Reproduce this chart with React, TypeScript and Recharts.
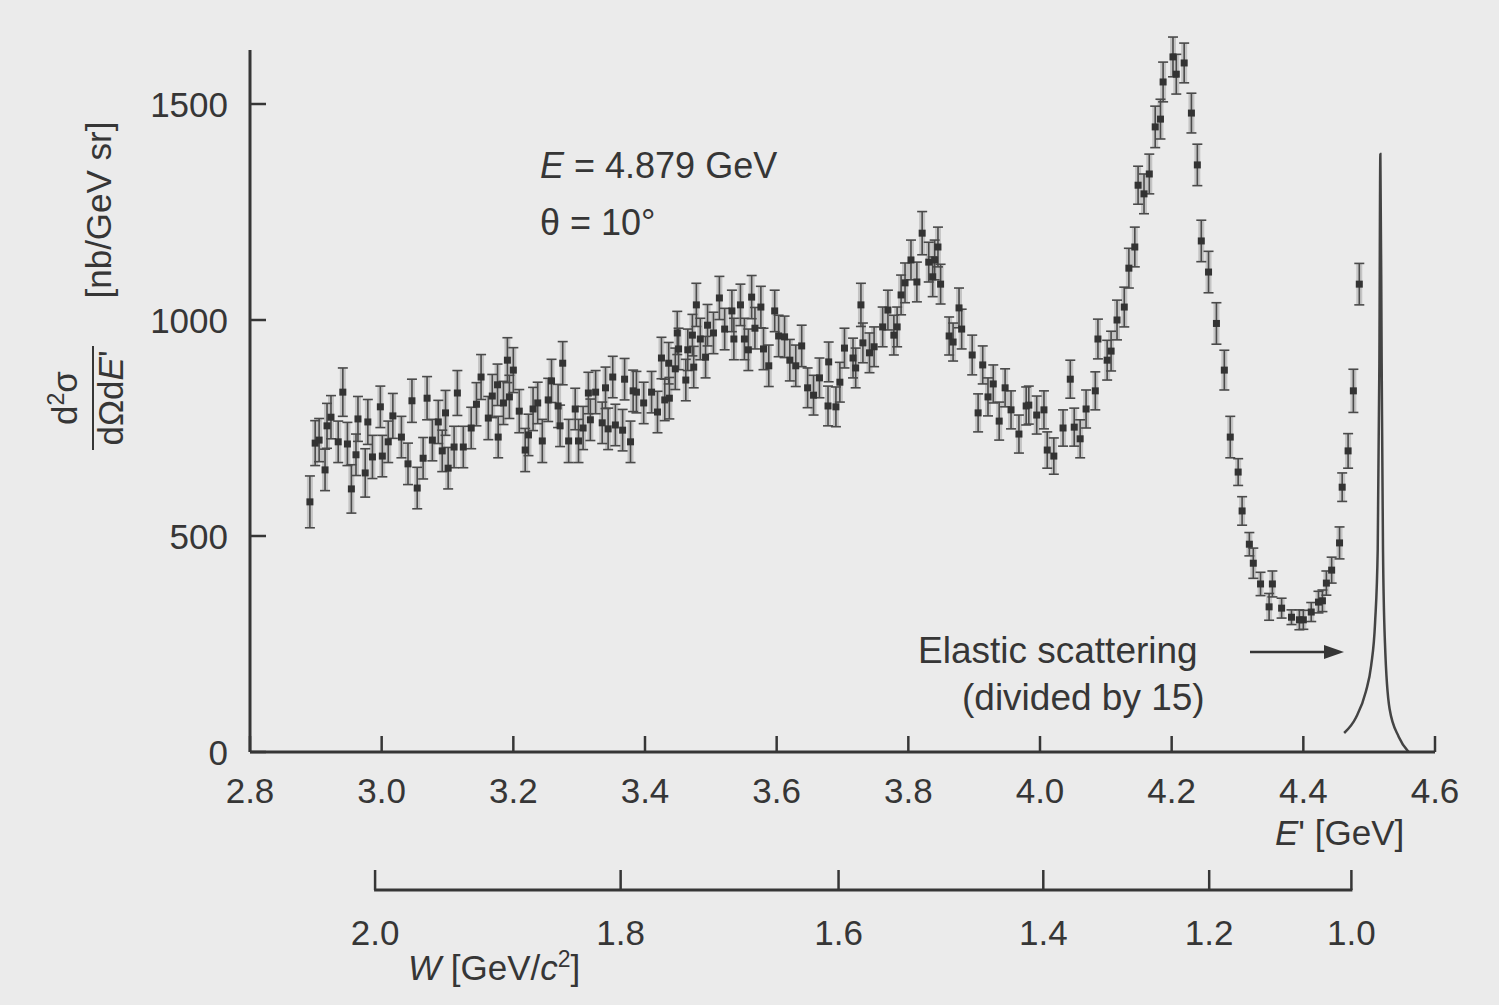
import React from "react";
import { ComposedChart, Scatter, Line, XAxis, YAxis, ErrorBar } from "recharts";

// scattered electron energy E' [GeV]
const ePrime = [
  2.891, 2.899, 2.905, 2.914, 2.917, 2.923, 2.934, 2.941, 2.948, 2.954, 2.961, 2.964, 2.975, 2.979, 2.986,
  2.998, 3.001, 3.01, 3.017, 3.03, 3.04, 3.046, 3.054, 3.063, 3.069, 3.077, 3.086, 3.092, 3.097, 3.101,
  3.11, 3.115, 3.124, 3.136, 3.144, 3.151, 3.162, 3.168, 3.176, 3.177, 3.185, 3.191, 3.194, 3.2, 3.209,
  3.218, 3.223, 3.23, 3.237, 3.244, 3.253, 3.258, 3.268, 3.271, 3.275, 3.284, 3.294, 3.299, 3.306, 3.314,
  3.317, 3.325, 3.335, 3.34, 3.344, 3.351, 3.355, 3.366, 3.369, 3.378, 3.382, 3.387, 3.398, 3.41, 3.419,
  3.425, 3.43, 3.436, 3.437, 3.446, 3.449, 3.451, 3.462, 3.465, 3.472, 3.474, 3.478, 3.484, 3.492, 3.495,
  3.504, 3.513, 3.521, 3.532, 3.535, 3.545, 3.551, 3.557, 3.562, 3.567, 3.576, 3.58, 3.588, 3.597, 3.603,
  3.612, 3.62, 3.629, 3.638, 3.647, 3.656, 3.665, 3.678, 3.679, 3.69, 3.696, 3.703, 3.716, 3.72, 3.728,
  3.731, 3.741, 3.748, 3.761, 3.769, 3.778, 3.783, 3.789, 3.795, 3.804, 3.813, 3.821, 3.831, 3.837, 3.84,
  3.845, 3.849, 3.862, 3.868, 3.877, 3.881, 3.897, 3.906, 3.913, 3.921, 3.929, 3.938, 3.947, 3.956, 3.968,
  3.979, 3.983, 3.995, 4.006, 4.011, 4.021, 4.035, 4.046, 4.052, 4.061, 4.07, 4.084, 4.088, 4.102, 4.108,
  4.117, 4.128, 4.135, 4.144, 4.149, 4.158, 4.166, 4.175, 4.183, 4.187, 4.202, 4.207, 4.219, 4.23, 4.239,
  4.245, 4.256, 4.268, 4.28, 4.289, 4.301, 4.307, 4.318, 4.324, 4.335, 4.348, 4.353, 4.367, 4.382, 4.394,
  4.4, 4.412, 4.423, 4.429, 4.435, 4.443, 4.455, 4.459, 4.468, 4.476, 4.485,
];

// d²σ/dΩdE' [nb/GeV sr]
const sigma = [
  579, 715, 722, 653, 755, 775, 718, 833, 713, 609, 688, 771, 646, 764, 683,
  799, 685, 718, 778, 729, 667, 813, 611, 680, 819, 722, 764, 697, 785, 657,
  706, 831, 706, 750, 805, 868, 773, 824, 850, 729, 808, 907, 822, 884, 789,
  699, 734, 794, 808, 720, 815, 859, 801, 755, 900, 720, 794, 720, 750, 831,
  769, 833, 762, 843, 748, 868, 757, 745, 863, 718, 836, 833, 808, 833, 787,
  912, 815, 900, 819, 887, 970, 933, 861, 931, 965, 891, 1035, 956, 914, 988,
  970, 1051, 979, 1021, 956, 1035, 956, 931, 1053, 981, 1030, 933, 894, 1021, 963,
  961, 907, 894, 940, 843, 826, 866, 801, 903, 799, 856, 935, 912, 889, 1035,
  947, 924, 938, 984, 1023, 965, 984, 1058, 1086, 1139, 1088, 1201, 1134, 1100, 1139,
  1169, 1083, 963, 949, 1028, 979, 919, 785, 896, 822, 852, 766, 843, 792, 736,
  801, 803, 780, 792, 699, 685, 750, 863, 752, 725, 794, 836, 956, 907, 928,
  1000, 1030, 1120, 1169, 1312, 1292, 1338, 1447, 1465, 1551, 1609, 1569, 1595, 1479, 1359,
  1183, 1111, 992, 884, 729, 648, 558, 481, 437, 389, 336, 389, 333, 312, 306,
  306, 324, 347, 350, 391, 421, 484, 613, 697, 836, 1083,
];

// half length of each error bar
const sigmaErr = [
  60, 52, 50, 48, 52, 50, 48, 56, 50, 56, 48, 52, 56, 52, 50,
  48, 48, 48, 52, 48, 48, 50, 48, 48, 50, 48, 50, 48, 52, 48,
  48, 52, 48, 48, 50, 52, 50, 50, 48, 48, 50, 52, 50, 52, 50,
  50, 48, 50, 48, 50, 50, 50, 50, 48, 50, 50, 48, 50, 50, 48,
  48, 50, 48, 48, 48, 48, 48, 48, 48, 48, 48, 48, 48, 48, 48,
  48, 48, 48, 48, 48, 50, 48, 48, 48, 48, 48, 50, 48, 48, 48,
  48, 50, 48, 48, 48, 48, 48, 48, 50, 48, 48, 48, 48, 48, 48,
  48, 48, 48, 48, 46, 46, 46, 46, 46, 46, 46, 46, 46, 46, 50,
  46, 46, 46, 46, 46, 46, 46, 46, 46, 46, 46, 50, 46, 46, 46,
  46, 46, 44, 44, 46, 46, 46, 44, 44, 44, 44, 44, 44, 44, 44,
  44, 44, 44, 44, 42, 42, 42, 44, 44, 44, 44, 44, 46, 46, 46,
  46, 46, 46, 46, 44, 46, 46, 48, 46, 46, 46, 46, 46, 46, 48,
  48, 48, 48, 46, 48, 31, 33, 27, 35, 27, 31, 30, 23, 17, 23,
  22, 22, 25, 25, 28, 30, 37, 33, 40, 50, 48,
];

// elastic peak (divided by 15)
const elasticE = [4.462, 4.48, 4.495, 4.503, 4.509, 4.513, 4.5155, 4.517, 4.519, 4.521, 4.524, 4.531, 4.545, 4.56];
const elasticSigma = [44, 80, 140, 200, 300, 470, 900, 1384, 900, 470, 252, 100, 35, 0];

const eTicks = [2.8, 3.0, 3.2, 3.4, 3.6, 3.8, 4.0, 4.2, 4.4, 4.6];
const yTicks = [0, 500, 1000, 1500];
const wLabels = ["2.0", "1.8", "1.6", "1.4", "1.2", "1.0"];
const wTickAtE = [2.99, 3.363, 3.694, 4.005, 4.257, 4.473]; // E' under each W tick

const points = ePrime.map((e, i) => ({ e, v: sigma[i], err: sigmaErr[i] }));
const elastic = elasticE.map((e, i) => ({ e, v: elasticSigma[i] }));

const W = 1499;
const H = 1005;
const M = { top: 50, right: 64, bottom: 15, left: 190 };
const Y_AXIS_W = 60;
const E_AXIS_H = 138;
const W_AXIS_H = 100;
const E_MIN = 2.8;
const E_MAX = 4.6;
const PLOT_W = W - M.left - Y_AXIS_W - M.right;
const INK = "#363636";
const BG = "#ebebeb";
const FONT = "'Liberation Sans', Arial, Helvetica, sans-serif";

function ETick({ x, y, payload }: any) {
  return (
    <g>
      <line x1={x} x2={x} y1={y} y2={y - 16} stroke={INK} strokeWidth={2.5} />
      <text x={x} y={y + 38} textAnchor="middle" dominantBaseline="central" fontSize={35} fill={INK} fontFamily={FONT}>
        {Number(payload.value).toFixed(1)}
      </text>
    </g>
  );
}

// W axis: only a stretch of line between first and last tick, ticks point up
function WTick({ x, y, index }: any) {
  const span = ((wTickAtE[wTickAtE.length - 1] - wTickAtE[0]) * PLOT_W) / (E_MAX - E_MIN);
  return (
    <g>
      {index === 0 && <line x1={x - 1} x2={x + span + 1} y1={y} y2={y} stroke={INK} strokeWidth={3} />}
      <line x1={x} x2={x} y1={y} y2={y - 20} stroke={INK} strokeWidth={2.5} />
      <text x={x} y={y + 42} textAnchor="middle" dominantBaseline="central" fontSize={35} fill={INK} fontFamily={FONT}>
        {wLabels[index]}
      </text>
    </g>
  );
}

function YTick({ x, y, payload }: any) {
  return (
    <g>
      <line x1={x} x2={x + 16} y1={y} y2={y} stroke={INK} strokeWidth={2.5} />
      <text x={x - 22} y={y} textAnchor="end" dominantBaseline="central" fontSize={35} fill={INK} fontFamily={FONT}>
        {payload.value}
      </text>
    </g>
  );
}

function Dot({ cx, cy }: any) {
  return <rect x={cx - 3.5} y={cy - 3.5} width={7} height={7} fill="#333" />;
}

function NoDot() {
  return <g />;
}

export default function App() {
  return (
    <div style={{ position: "absolute", left: 0, top: 0, width: W, height: H, background: BG, overflow: "hidden" }}>
      <ComposedChart width={W} height={H} margin={M} style={{ position: "absolute", left: 0, top: 0 }}>
        <XAxis
          xAxisId="e"
          type="number"
          dataKey="e"
          domain={[E_MIN, E_MAX]}
          ticks={eTicks}
          interval={0}
          tick={<ETick />}
          tickSize={0}
          tickMargin={0}
          tickLine={false}
          axisLine={{ stroke: INK, strokeWidth: 3 }}
          height={E_AXIS_H}
        />
        <XAxis
          xAxisId="w"
          type="number"
          dataKey="e"
          domain={[E_MIN, E_MAX]}
          ticks={wTickAtE}
          interval={0}
          tick={<WTick />}
          tickSize={0}
          tickMargin={0}
          tickLine={false}
          axisLine={false}
          height={W_AXIS_H}
        />
        <YAxis
          type="number"
          domain={[0, 1625]}
          allowDataOverflow
          ticks={yTicks}
          interval={0}
          tick={<YTick />}
          tickSize={0}
          tickMargin={0}
          tickLine={false}
          axisLine={{ stroke: INK, strokeWidth: 3 }}
          width={Y_AXIS_W}
        />
        <Line
          xAxisId="e"
          data={elastic}
          dataKey="v"
          type="monotone"
          stroke="#444"
          strokeWidth={2.5}
          dot={false}
          isAnimationActive={false}
        />
        <Scatter xAxisId="e" data={points} dataKey="v" shape={<Dot />} isAnimationActive={false}>
          <ErrorBar dataKey="err" direction="y" width={0} stroke="#c4c4c4" strokeWidth={6} />
          <ErrorBar dataKey="err" direction="y" width={5} stroke="#4a4a4a" strokeWidth={1.6} />
        </Scatter>
        {/* invisible twin so the W axis gets drawn */}
        <Scatter xAxisId="w" data={points} dataKey="v" shape={<NoDot />} isAnimationActive={false} />
      </ComposedChart>

      <svg width={W} height={H} style={{ position: "absolute", left: 0, top: 0, pointerEvents: "none" }} fontFamily={FONT} fill={INK}>
        <text x={540} y={178} fontSize={36}>
          <tspan fontStyle="italic">E</tspan> = 4.879 GeV
        </text>
        <text x={540} y={235} fontSize={36}>θ = 10°</text>

        <text x={918} y={663} fontSize={37}>Elastic scattering</text>
        <text x={962} y={710} fontSize={37}>(divided by 15)</text>
        <line x1={1250} x2={1326} y1={652} y2={652} stroke={INK} strokeWidth={2.5} />
        <polygon points="1344,652 1324,645 1324,659" fill={INK} />

        <text x={1275} y={845} fontSize={35}>
          <tspan fontStyle="italic">E</tspan>' [GeV]
        </text>
        <text x={408} y={980} fontSize={35}>
          <tspan fontStyle="italic">W</tspan> [GeV/<tspan fontStyle="italic">c</tspan>
          <tspan fontSize={23} dy={-13}>2</tspan>
          <tspan dy={13}>]</tspan>
        </text>

        <g transform="translate(98,210) rotate(-90)">
          <text textAnchor="middle" dominantBaseline="central" fontSize={35}>[nb/GeV sr]</text>
        </g>
        <g transform="translate(93,398) rotate(-90)">
          <text y={-16} textAnchor="middle" fontSize={35}>
            d<tspan fontSize={23} dy={-13}>2</tspan>
            <tspan dy={13}>σ</tspan>
          </text>
          <line x1={-52} x2={52} y1={0} y2={0} stroke={INK} strokeWidth={2} />
          <text y={30} textAnchor="middle" fontSize={35}>
            dΩd<tspan fontStyle="italic">E</tspan>'
          </text>
        </g>
      </svg>
    </div>
  );
}
